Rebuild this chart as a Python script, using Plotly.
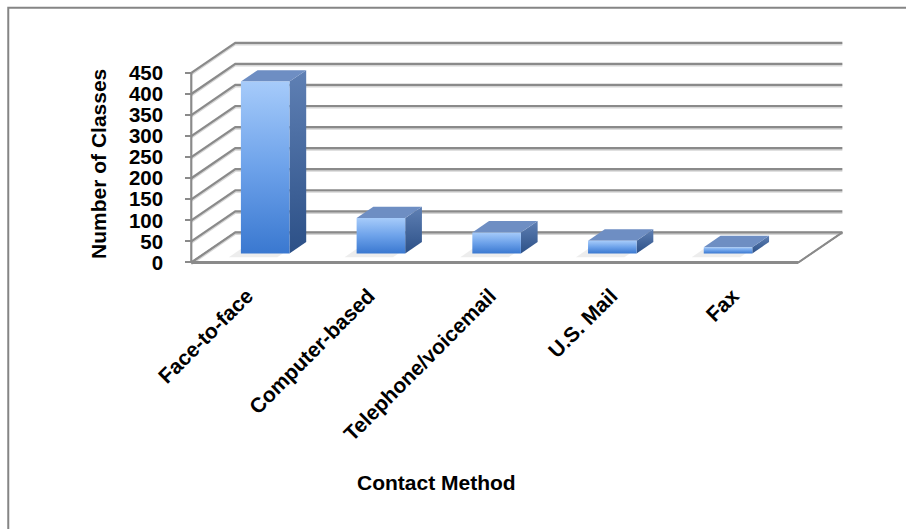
import plotly.graph_objects as go

# ---------------- data ----------------
categories = ["Face-to-face", "Computer-based", "Telephone/voicemail", "U.S. Mail", "Fax"]
classes = [408, 84, 50, 30, 15]
y_tick_values = [0, 50, 100, 150, 200, 250, 300, 350, 400, 450]
x_title = "Contact Method"
y_title = "Number of Classes"

# ---------------- layout / style constants ----------------
W, H = 906, 529
SX = 121.4          # px per category unit
SY = 0.42           # px per y unit
X0_PX = 191         # pixel x of the front-left corner (x = -0.5)
Y0_PX = 262         # pixel y of value 0 on the front plane
DX = 44 / SX        # wall depth (x units)
DY = 30 / SY        # wall depth (y units)
XR = [-0.56, 4.95]
YR = [-6, 540]
YMAX = 450
LABEL_SHIFT = -0.04  # small horizontal nudge of the category labels

BAR_SPREAD = 0.953  # spacing of bars (perspective shrink)
BAR_W = 0.40
BAR_F0 = 0.30       # depth fraction of bar front plane
BAR_D = 0.38        # depth fraction of bar thickness

GRID = "#8a8a8a"
FONT = dict(family="Liberation Sans, Arial, sans-serif", color="black", weight="bold")

pw = (XR[1] - XR[0]) * SX
ph = (YR[1] - YR[0]) * SY
ml = X0_PX - (-0.5 - XR[0]) * SX
mr = W - ml - pw
mb = H - (Y0_PX + (0 - YR[0]) * SY)
mt = H - mb - ph


def px_to_paper_x(px):
    return (px - ml) / pw


def px_to_paper_y(py):
    return (H - mb - py) / ph


fig = go.Figure()
n = len(categories)
xl, xr_ = -0.5, n - 0.5

# floor
fig.add_trace(go.Scatter(
    x=[xl, xr_, xr_ + DX, xl + DX, xl], y=[0, 0, DY, DY, 0],
    fill="toself", fillcolor="white", mode="lines",
    line=dict(color=GRID, width=1.5), hoverinfo="skip", showlegend=False))

# wall gridlines (with soft shadow)
for v in y_tick_values:
    off = -1.6 / SY
    fig.add_trace(go.Scatter(
        x=[xl, xl + DX, xr_ + DX], y=[v + off, v + DY + off, v + DY + off],
        mode="lines", line=dict(color="#d6d6d6", width=2),
        hoverinfo="skip", showlegend=False))
    fig.add_trace(go.Scatter(
        x=[xl, xl + DX, xr_ + DX], y=[v, v + DY, v + DY],
        mode="lines", line=dict(color=GRID, width=2.2),
        hoverinfo="skip", showlegend=False))

# floor right edge
fig.add_trace(go.Scatter(
    x=[xr_, xr_ + DX], y=[0, DY], mode="lines",
    line=dict(color=GRID, width=2), hoverinfo="skip", showlegend=False))

bdx, bdy = BAR_D * DX, BAR_D * DY
# bars
for i, (cat, v) in enumerate(zip(categories, classes)):
    c = i * BAR_SPREAD + BAR_F0 * DX
    left, right = c - BAR_W / 2, c + BAR_W / 2
    bot = BAR_F0 * DY
    top = v + bot
    # shadow on floor
    sx, sy = -0.10, -9
    fig.add_trace(go.Scatter(
        x=[left + sx, right + sx, right + bdx + sx, left + bdx + sx, left + sx],
        y=[bot + sy, bot + sy, bot + bdy + sy, bot + bdy + sy, bot + sy],
        fill="toself", fillcolor="rgba(0,0,0,0.07)", mode="none",
        hoverinfo="skip", showlegend=False))
    # side face
    fig.add_trace(go.Scatter(
        x=[right, right + bdx, right + bdx, right, right],
        y=[bot, bot + bdy, top + bdy, top, bot],
        fill="toself", mode="none",
        fillgradient=dict(type="vertical", colorscale=[[0, "#2c5087"], [1, "#5f80b4"]]),
        hoverinfo="skip", showlegend=False))
    # top face
    fig.add_trace(go.Scatter(
        x=[left, right, right + bdx, left + bdx, left],
        y=[top, top, top + bdy, top + bdy, top],
        fill="toself", fillcolor="#6e8ec3", mode="none",
        hoverinfo="skip", showlegend=False))
    # front face
    fig.add_trace(go.Scatter(
        x=[left, right, right, left, left],
        y=[bot, bot, top, top, bot],
        fill="toself", mode="none",
        fillgradient=dict(type="vertical",
                          colorscale=[[0, "#3a78d0"], [0.5, "#6da2ea"], [1, "#a6cbfa"]]),
        name=cat, hovertemplate=f"{cat}: {v}<extra></extra>", showlegend=False))

# front axis lines
fig.add_trace(go.Scatter(
    x=[xl, xl], y=[0, YMAX], mode="lines", line=dict(color=GRID, width=2.2),
    hoverinfo="skip", showlegend=False))
fig.add_trace(go.Scatter(
    x=[xl, xr_], y=[0, 0], mode="lines", line=dict(color=GRID, width=3),
    hoverinfo="skip", showlegend=False))

pos_x0 = (0 - YR[0]) / (YR[1] - YR[0])
pos_y0 = (-0.5 - XR[0]) / (XR[1] - XR[0])

fig.update_layout(
    width=W, height=H, autosize=False,
    margin=dict(l=ml, r=mr, t=mt, b=mb, pad=0),
    paper_bgcolor="white", plot_bgcolor="rgba(0,0,0,0)",
    xaxis=dict(range=XR, tickvals=[k + LABEL_SHIFT for k in range(n)], ticktext=categories,
               tickangle=-45, ticks="", showgrid=False, zeroline=False,
               showline=False, anchor="free", position=pos_x0,
               ticklabelstandoff=16,
               tickfont=dict(size=21, **FONT), fixedrange=True),
    xaxis2=dict(range=XR, overlaying="x", anchor="free", position=pos_x0,
                side="bottom",
                tickvals=[k - 0.5 for k in range(n + 1)], ticks="outside",
                ticklen=6, tickwidth=2.2, tickcolor=GRID,
                showticklabels=False, showgrid=False, zeroline=False,
                showline=False, fixedrange=True),
    yaxis=dict(range=YR, tickvals=y_tick_values, ticks="outside", ticklen=6,
               tickwidth=2.2, tickcolor=GRID, showgrid=False, zeroline=False,
               showline=False, anchor="free", position=pos_y0,
               ticklabelstandoff=18,
               tickfont=dict(size=20.5, **FONT),
               fixedrange=True),
    annotations=[
        dict(text=x_title, xref="paper", yref="paper",
             x=px_to_paper_x(436), y=px_to_paper_y(481),
             xanchor="center", yanchor="middle", showarrow=False,
             font=dict(size=21, **FONT)),
        dict(text=y_title, xref="paper", yref="paper", textangle=-90,
             x=px_to_paper_x(98), y=px_to_paper_y(163.5),
             xanchor="center", yanchor="middle", showarrow=False,
             font=dict(size=21, **FONT)),
    ],
    shapes=[dict(type="rect", xref="paper", yref="paper",
                 x0=px_to_paper_x(8), y0=px_to_paper_y(540),
                 x1=px_to_paper_x(920), y1=px_to_paper_y(8),
                 line=dict(color="#858585", width=2), fillcolor="rgba(0,0,0,0)",
                 layer="below")],
)

fig.write_html("out.html")
